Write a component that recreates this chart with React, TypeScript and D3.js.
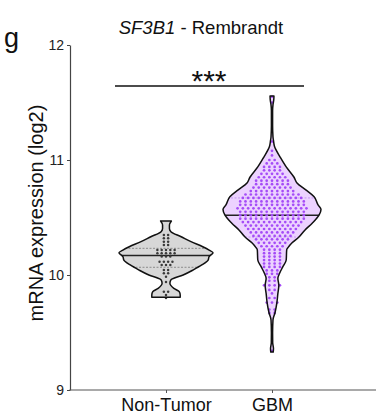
import React, { useRef, useEffect } from 'react';
import * as d3 from 'd3';

const groups = ['Non-Tumor', 'GBM'];
const yTicks = [9, 10, 11, 12];

// violin outlines: expression level and relative half-width
const ntLevels = [10.47, 10.435, 10.405, 10.377, 10.333, 10.29, 10.246, 10.217, 10.194, 10.16, 10.13, 10.087, 10.043, 10.0, 9.957, 9.928, 9.884, 9.855, 9.826, 9.806];
const ntWidths = [0.11, 0.07, 0.07, 0.1, 0.31, 0.51, 0.75, 0.88, 0.96, 0.88, 0.86, 0.73, 0.55, 0.35, 0.1, 0.08, 0.16, 0.27, 0.29, 0.29];

const gbmLevels = [11.557, 11.52, 11.48, 11.43, 11.3, 11.2, 11.17, 11.12, 11.09, 11.03, 10.94, 10.85, 10.8, 10.74, 10.68, 10.61, 10.57, 10.52, 10.45, 10.39, 10.33, 10.28, 10.24, 10.22, 10.13, 10.07, 10.02, 9.97, 9.91, 9.84, 9.76, 9.67, 9.61, 9.5, 9.41, 9.36, 9.33];
const gbmWidths = [0.04, 0.035, 0.02, 0.012, 0.012, 0.02, 0.03, 0.05, 0.08, 0.16, 0.29, 0.45, 0.51, 0.69, 0.86, 0.94, 1.0, 0.96, 0.82, 0.67, 0.55, 0.41, 0.33, 0.3, 0.29, 0.22, 0.16, 0.12, 0.14, 0.12, 0.1, 0.06, 0.02, 0.012, 0.014, 0.03, 0.025];

// summary lines
const ntMedian = 10.17;
const ntQuartiles = [10.067, 10.232];
const gbmMedian = 10.52;
const gbmQuartiles = [10.33, 10.67];

// samples, as rows of dots: level and number of dots in the row
const ntDotLevels = [10.348, 10.319, 10.29, 10.26, 10.217, 10.19, 10.16, 10.116, 10.087, 10.043, 10.015, 9.985, 9.94, 9.855, 9.826, 9.8];
const ntDotCounts = [2, 2, 2, 2, 5, 5, 3, 4, 3, 2, 2, 1, 1, 2, 1, 1];

const gbmDotLevels = [11.55, 11.5, 11.16, 11.08, 11.04, 11.0, 10.97, 10.94, 10.91, 10.88, 10.85, 10.82, 10.79, 10.76, 10.73, 10.7, 10.67, 10.64, 10.61, 10.58, 10.55, 10.52, 10.49, 10.46, 10.43, 10.4, 10.37, 10.34, 10.31, 10.28, 10.25, 10.22, 10.19, 10.16, 10.13, 10.1, 10.07, 10.04, 10.01, 9.98, 9.95, 9.91, 9.87, 9.84, 9.8, 9.76, 9.7, 9.67, 9.34];
const gbmDotCounts = [1, 1, 1, 1, 1, 2, 3, 4, 4, 5, 6, 7, 7, 8, 9, 11, 12, 13, 13, 14, 13, 13, 13, 12, 11, 10, 9, 8, 7, 6, 5, 4, 4, 4, 4, 4, 4, 3, 3, 2, 2, 4, 2, 1, 2, 3, 2, 2, 1];

const FONT = "'Liberation Sans', Arial, Helvetica, sans-serif";

const violins = [
  { name: 'Non-Tumor', levels: ntLevels, widths: ntWidths, median: ntMedian, quartiles: ntQuartiles, dotLevels: ntDotLevels, dotCounts: ntDotCounts, fill: '#d7d7d7', dot: '#3a3a3a', quart: '#8c8c8c', gap: 4.3, r: 1.25 },
  { name: 'GBM', levels: gbmLevels, widths: gbmWidths, median: gbmMedian, quartiles: gbmQuartiles, dotLevels: gbmDotLevels, dotCounts: gbmDotCounts, fill: '#ecd2ff', dot: '#a54cf7', quart: '#c79af2', gap: 5.3, r: 1.35 },
];

export default function App() {
  const svgRef = useRef<SVGSVGElement>(null);

  useEffect(() => {
    const svg = d3.select(svgRef.current).html('');

    const y = d3.scaleLinear().domain([9, 12]).range([390, 45]);
    const x = d3.scalePoint<string>().domain(groups).range([166, 272]);
    const w = d3.scaleLinear().domain([0, 1]).range([0, 49]);

    // violins
    violins.forEach((v, k) => {
      const cx = x(v.name)!;
      const pts = v.levels.map((l, i) => [l, v.widths[i]] as [number, number]);
      const area = d3.area<[number, number]>()
        .y(d => y(d[0]))
        .x0(d => cx - w(d[1]))
        .x1(d => cx + w(d[1]))
        .curve(d3.curveMonotoneY);
      const path = area(pts)!;

      svg.append('clipPath').attr('id', `clip${k}`)
        .append('path').attr('d', path);

      svg.append('path').attr('d', path).attr('fill', v.fill);

      const g = svg.append('g').attr('clip-path', `url(#clip${k})`);
      v.quartiles.forEach(q => {
        g.append('line')
          .attr('x1', cx - 55).attr('x2', cx + 55)
          .attr('y1', y(q)).attr('y2', y(q))
          .attr('stroke', v.quart).attr('stroke-width', 1)
          .attr('stroke-dasharray', '2,1.5');
      });
      g.append('line')
        .attr('x1', cx - 55).attr('x2', cx + 55)
        .attr('y1', y(v.median)).attr('y2', y(v.median))
        .attr('stroke', '#222').attr('stroke-width', 1.4);

      // dots
      v.dotLevels.forEach((l, i) => {
        const n = v.dotCounts[i];
        d3.range(n).forEach(j => {
          svg.append('circle')
            .attr('cx', cx + (j - (n - 1) / 2) * v.gap)
            .attr('cy', y(l))
            .attr('r', v.r)
            .attr('fill', v.dot);
        });
      });

      svg.append('path').attr('d', path)
        .attr('fill', 'none').attr('stroke', '#111').attr('stroke-width', 1.5)
        .attr('stroke-linejoin', 'round');
    });

    // y axis
    const ya = svg.append('g').attr('transform', 'translate(70,0)')
      .call(d3.axisLeft(y).tickValues(yTicks).tickSize(3).tickSizeOuter(0).tickFormat(d3.format('d')));
    ya.select('.domain').attr('stroke', '#444').attr('stroke-width', 1.2);
    ya.selectAll('.tick line').attr('stroke', '#444');
    ya.selectAll('.tick text').attr('font-family', FONT).attr('font-size', 14).attr('fill', '#222');

    // x axis
    svg.append('line').attr('x1', 69.4).attr('x2', 376).attr('y1', 390).attr('y2', 390)
      .attr('stroke', '#555').attr('stroke-width', 1.2);
    const xa = svg.append('g').attr('transform', 'translate(0,390)')
      .call(d3.axisBottom(x).tickSize(3).tickPadding(5).tickSizeOuter(0));
    xa.select('.domain').remove();
    xa.selectAll('.tick line').attr('stroke', '#555');
    xa.selectAll('.tick text').attr('font-family', FONT).attr('font-size', 18).attr('fill', '#111');

    // y label
    svg.append('text')
      .attr('transform', 'translate(43,213) rotate(-90)')
      .attr('text-anchor', 'middle')
      .attr('font-family', FONT).attr('font-size', 20).attr('fill', '#111')
      .text('mRNA expression (log2)');

    // title
    const t = svg.append('text')
      .attr('x', 201).attr('y', 34)
      .attr('text-anchor', 'middle')
      .attr('font-family', FONT).attr('font-size', 18.5).attr('fill', '#111');
    t.append('tspan').attr('font-style', 'italic').text('SF3B1');
    t.append('tspan').text(' - Rembrandt');

    // panel letter
    svg.append('text').attr('x', 4).attr('y', 47)
      .attr('font-family', FONT).attr('font-size', 27).attr('fill', '#111')
      .text('g');

    // significance
    svg.append('line').attr('x1', 115).attr('x2', 304).attr('y1', 86).attr('y2', 86)
      .attr('stroke', '#111').attr('stroke-width', 1.3);
    svg.append('text').attr('x', 209).attr('y', 91)
      .attr('text-anchor', 'middle')
      .attr('font-family', FONT).attr('font-size', 30).attr('fill', '#111')
      .text('***');
  }, []);

  return <svg ref={svgRef} width={376} height={417} style={{ position: 'absolute', left: 0, top: 0, background: '#fff' }} />;
}
